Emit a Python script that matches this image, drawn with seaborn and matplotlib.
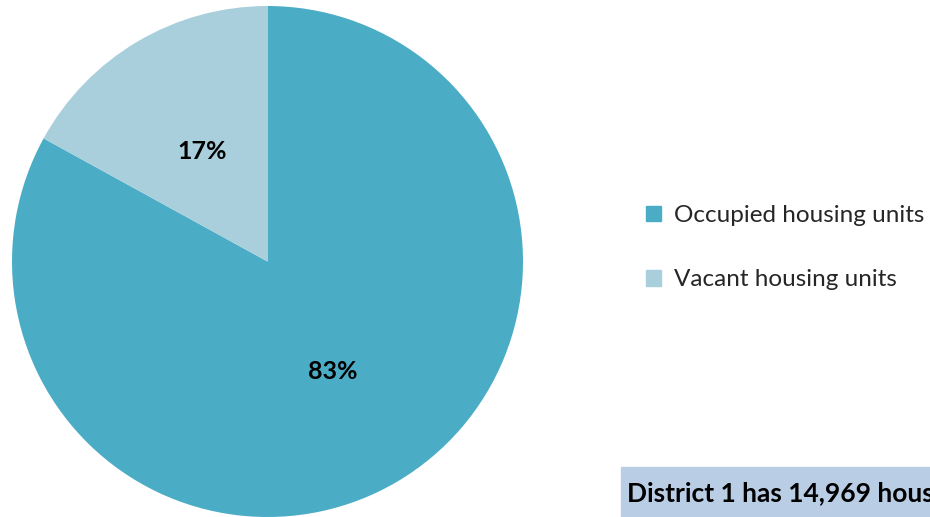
import matplotlib
matplotlib.use("Agg")
import matplotlib.pyplot as plt
import matplotlib.patches as mpatches
import seaborn as sns

# Data
labels = ["Occupied housing units", "Vacant housing units"]
shares = [83, 17]
colors = ["#4bacc6", "#a9cfdc"]
note = "District 1 has 14,969 housing units."

sns.set_theme(style="white")
plt.rcParams['font.family'] = ['Lato', 'DejaVu Sans']

W, H = 930, 517
fig = plt.figure(figsize=(W / 100, H / 100), dpi=100)

# Pie axis placed in pixel terms
cx, cy, r = 267.5, 261.5, 255.5
ax = fig.add_axes([(cx - r) / W, (H - cy - r) / H, 2 * r / W, 2 * r / H])
pal = sns.color_palette(colors)
wedges, texts, autotexts = ax.pie(shares, colors=pal, startangle=90, counterclock=False,
                                  autopct="%d%%", pctdistance=0.5, radius=1,
                                  wedgeprops=dict(linewidth=0),
                                  textprops=dict(fontsize=18, fontweight="bold", color="black"))
ax.set_xlim(-1, 1)
ax.set_ylim(-1, 1)
ax.set_aspect("equal")
ax.axis("off")

# Legend
handles = [mpatches.Patch(color=c, label=l) for c, l in zip(pal, labels)]
fig.legend(handles=handles, loc="upper left", bbox_to_anchor=(646 / W, 1 - 205 / H),
           frameon=False, fontsize=17.5, handlelength=0.62, handleheight=0.62,
           handletextpad=0.53, labelspacing=1.78, borderaxespad=0, borderpad=0)

# Note box at the bottom right
fig.patches.append(mpatches.Rectangle((621 / W, 0), (W - 621) / W, 50 / H,
                                      transform=fig.transFigure, color="#b9cde5", zorder=0))
fig.text(627 / W, 15 / H, note, fontsize=19, fontweight="bold", color="black", va="baseline")

fig.savefig("out.png", dpi=100)
